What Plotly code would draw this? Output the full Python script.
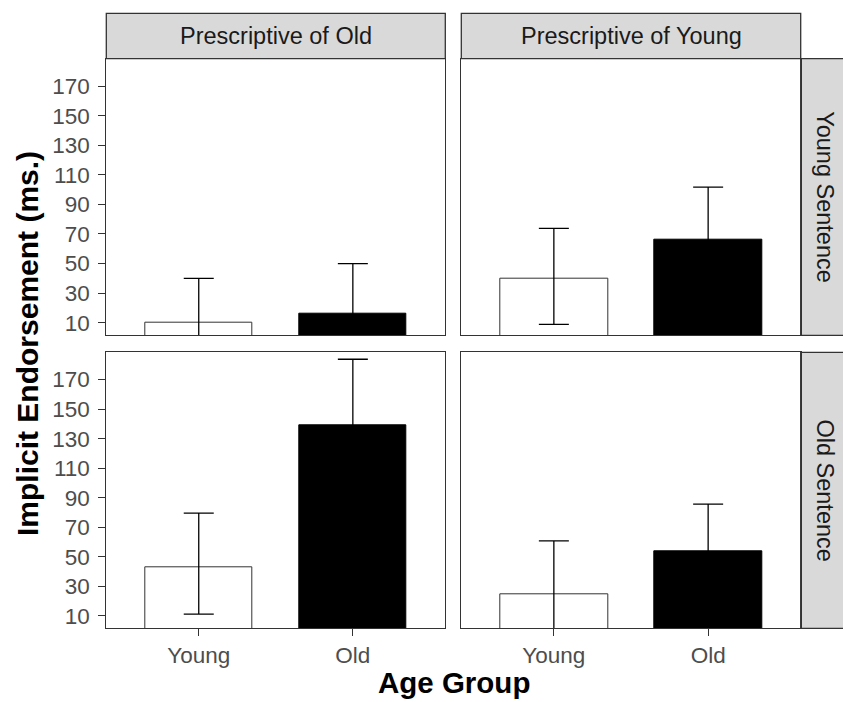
import plotly.graph_objects as go

# ---- data ----
age_groups = ["Young", "Old"]
col_labels = ["Prescriptive of Old", "Prescriptive of Young"]
row_labels = ["Young Sentence", "Old Sentence"]

# means per panel: [Young, Old]
ys_po_mean = [10.0, 16.0]
ys_py_mean = [40.0, 66.4]
os_po_mean = [42.7, 138.8]
os_py_mean = [24.5, 53.4]

# error bar extents (upper / lower lengths)
ys_po_up = [30.0, 34.0]
ys_po_lo = [30.0, 34.0]
ys_py_up = [33.8, 35.3]
ys_py_lo = [31.1, 35.3]
os_po_up = [36.9, 45.0]
os_po_lo = [31.6, 45.0]
os_py_up = [36.3, 32.3]
os_py_lo = [36.3, 32.3]

y_ticks = [10, 30, 50, 70, 90, 110, 130, 150, 170]

panels = [
    (ys_po_mean, ys_po_up, ys_po_lo),
    (ys_py_mean, ys_py_up, ys_py_lo),
    (os_po_mean, os_po_up, os_po_lo),
    (os_py_mean, os_py_up, os_py_lo),
]

W, H = 843, 702
FONT = "Liberation Sans"

# layout geometry in page pixels (reference)
col_x = [(106.3, 445.3), (461.3, 800.7)]
row_y = [(58.7, 335.3), (352.3, 628.3)]
strip_top = 13.3
strip_right = 843.0

def px(x):
    return x / W

def py(y):
    return 1 - y / H

fig = go.Figure()

fill_colors = ["white", "black"]
line_colors = ["#333333", "black"]

for i, (means, up, lo) in enumerate(panels):
    r, c = divmod(i, 2)
    n = i + 1
    xa = "x" if n == 1 else f"x{n}"
    ya = "y" if n == 1 else f"y{n}"
    fig.add_trace(go.Bar(
        x=age_groups, y=means,
        width=0.7,
        marker=dict(color=fill_colors, line=dict(color=line_colors, width=1)),
        error_y=dict(type="data", symmetric=False, array=up, arrayminus=lo,
                     color="black", thickness=1.3, width=15),
        xaxis=xa, yaxis=ya, showlegend=False, hoverinfo="skip",
    ))

    xkey = "xaxis" if n == 1 else f"xaxis{n}"
    ykey = "yaxis" if n == 1 else f"yaxis{n}"
    x0, x1 = col_x[c]
    y0, y1 = row_y[r]
    fig.layout[xkey] = dict(
        domain=[px(x0), px(x1)], anchor=ya, type="category",
        range=[-0.6, 1.6], showgrid=False, zeroline=False,
        showline=True, mirror=True, linecolor="#333333", linewidth=1,
        ticks="outside" if r == 1 else "", ticklen=7, tickwidth=1.3,
        tickcolor="#333333", showticklabels=(r == 1), ticklabelstandoff=0,
        tickfont=dict(family=FONT, size=22.5, color="#4D4D4D"),
        fixedrange=True,
    )
    fig.layout[ykey] = dict(
        domain=[py(y1), py(y0)], anchor=xa,
        range=[1.5, 188.5], showgrid=False, zeroline=False,
        showline=True, mirror=True, linecolor="#333333", linewidth=1,
        tickvals=y_ticks, ticks="outside" if c == 0 else "",
        ticklen=7, tickwidth=1.3, tickcolor="#333333",
        showticklabels=(c == 0), ticklabelstandoff=4,
        tickfont=dict(family=FONT, size=22.5, color="#4D4D4D"),
        fixedrange=True,
    )

shapes = []
annotations = []
# top strips
for c, lab in enumerate(col_labels):
    x0, x1 = col_x[c]
    shapes.append(dict(type="rect", xref="paper", yref="paper",
                       x0=px(x0), x1=px(x1), y0=py(row_y[0][0]), y1=py(strip_top),
                       fillcolor="#D9D9D9", line=dict(color="#333333", width=1.3),
                       layer="below"))
    annotations.append(dict(text=lab, xref="paper", yref="paper",
                            x=px((x0 + x1) / 2), y=py((strip_top + row_y[0][0]) / 2),
                            showarrow=False, xanchor="center", yanchor="middle",
                            font=dict(family=FONT, size=23.5, color="#1A1A1A")))
# right strips
for r, lab in enumerate(row_labels):
    y0, y1 = row_y[r]
    shapes.append(dict(type="rect", xref="paper", yref="paper",
                       x0=px(col_x[1][1]), x1=px(strip_right + 3), y0=py(y1), y1=py(y0),
                       fillcolor="#D9D9D9", line=dict(color="#333333", width=1.3),
                       layer="below"))
    annotations.append(dict(text=lab, xref="paper", yref="paper",
                            x=px((col_x[1][1] + strip_right) / 2 + 3), y=py((y0 + y1) / 2),
                            showarrow=False, xanchor="center", yanchor="middle",
                            textangle=90,
                            font=dict(family=FONT, size=23.5, color="#1A1A1A")))

# axis titles
annotations.append(dict(text="<b>Implicit Endorsement (ms.)</b>", xref="paper", yref="paper",
                        x=px(27.5), y=py((row_y[0][0] + row_y[1][1]) / 2),
                        showarrow=False, textangle=-90, xanchor="center", yanchor="middle",
                        font=dict(family=FONT, size=30, color="black")))
annotations.append(dict(text="<b>Age Group</b>", xref="paper", yref="paper",
                        x=px((col_x[0][0] + col_x[1][1]) / 2), y=py(682),
                        showarrow=False, xanchor="center", yanchor="middle",
                        font=dict(family=FONT, size=29.5, color="black")))

fig.update_layout(
    width=W, height=H,
    margin=dict(l=0, r=0, t=0, b=0),
    paper_bgcolor="white", plot_bgcolor="white",
    shapes=shapes, annotations=annotations,
    bargap=0, showlegend=False,
)

fig.write_html(
    "out.html",
    config={"displayModeBar": False},
    post_script="document.body.style.margin='0';document.body.style.overflow='hidden';"
                "document.documentElement.style.overflow='hidden';",
)
